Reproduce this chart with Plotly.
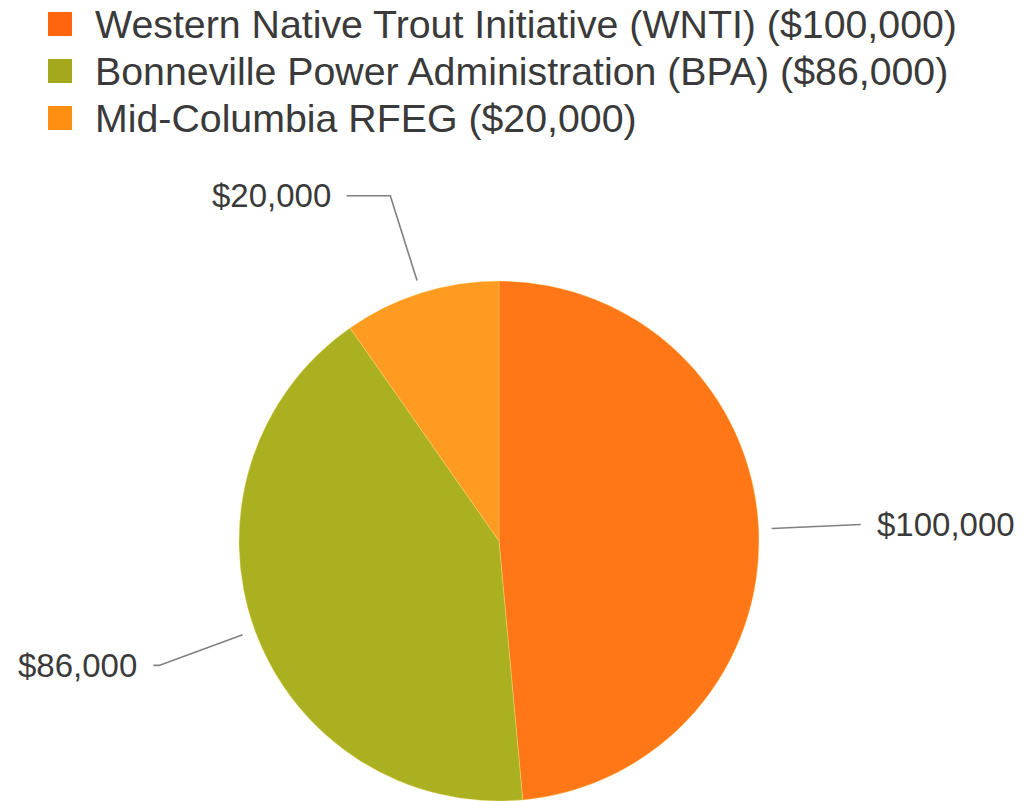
import math
import plotly.graph_objects as go

# ---- data ----
labels = ["Western Native Trout Initiative (WNTI)",
          "Bonneville Power Administration (BPA)",
          "Mid-Columbia RFEG"]
values = [100000, 86000, 20000]
slice_colors = ["#FF7716", "#ABB021", "#FF9B20"]
legend_colors = ["#FF640F", "#A3A81C", "#FF8F12"]

# ---- layout geometry (pixels) ----
W, H = 1024, 801
CX, R = 499, 260
TOP = 281
CY = TOP + R
FONT = "Arial, Liberation Sans, sans-serif"
TXT = "#3a3a3a"


def px(x):
    return x / W


def py(y):
    return 1 - y / H


fig = go.Figure()
fig.add_trace(go.Pie(
    labels=labels,
    values=values,
    sort=False,
    direction="clockwise",
    rotation=0,
    textinfo="none",
    hoverinfo="label+value",
    marker=dict(colors=slice_colors, line=dict(width=0.6, color="rgba(255,220,120,0.6)")),
    domain=dict(x=[px(CX - R), px(CX + R)], y=[0, py(TOP)]),
    showlegend=False,
))

shapes = []
annotations = []

# custom legend (large squares like the reference)
for i, (lab, val, col) in enumerate(zip(labels, values, legend_colors)):
    yc = 24 + i * 47
    shapes.append(dict(type="rect", xref="paper", yref="paper",
                       x0=px(48), x1=px(72), y0=py(yc - 12), y1=py(yc + 12),
                       fillcolor=col, line=dict(width=0)))
    annotations.append(dict(xref="paper", yref="paper", x=px(93), y=py(yc),
                            xanchor="left", yanchor="middle", showarrow=False,
                            text=f"{lab} (${val:,})",
                            font=dict(family=FONT, size=39.3, color=TXT)))

# data labels with elbow connectors, positioned from slice mid-angles
total = sum(values)
cum = 0
for val in values:
    mid = (cum + val / 2) / total * 2 * math.pi
    cum += val
    s, c = math.sin(mid), math.cos(mid)
    x0, y0 = CX + (R + 13) * s, CY - (R + 13) * c
    xb, yb = CX + (R + 102) * s, CY - (R + 102) * c
    sign = 1 if s >= 0 else -1
    xe = xb + sign * 48 * c * c
    shapes.append(dict(type="path", xref="paper", yref="paper",
                       path=f"M {px(x0)} {py(y0)} L {px(xb)} {py(yb)} L {px(xe)} {py(yb)}",
                       line=dict(color="#808080", width=1.6)))
    annotations.append(dict(xref="paper", yref="paper", x=px(xe + sign * 14), y=py(yb),
                            xanchor="left" if sign > 0 else "right", yanchor="middle",
                            showarrow=False, text=f"${val:,}",
                            font=dict(family=FONT, size=33, color=TXT)))

fig.update_layout(
    width=W, height=H,
    margin=dict(l=0, r=0, t=0, b=0),
    paper_bgcolor="white", plot_bgcolor="white",
    shapes=shapes, annotations=annotations,
    showlegend=False,
)

fig.write_html("out.html", config={"displayModeBar": False},
               post_script="document.body.style.margin='0';")
